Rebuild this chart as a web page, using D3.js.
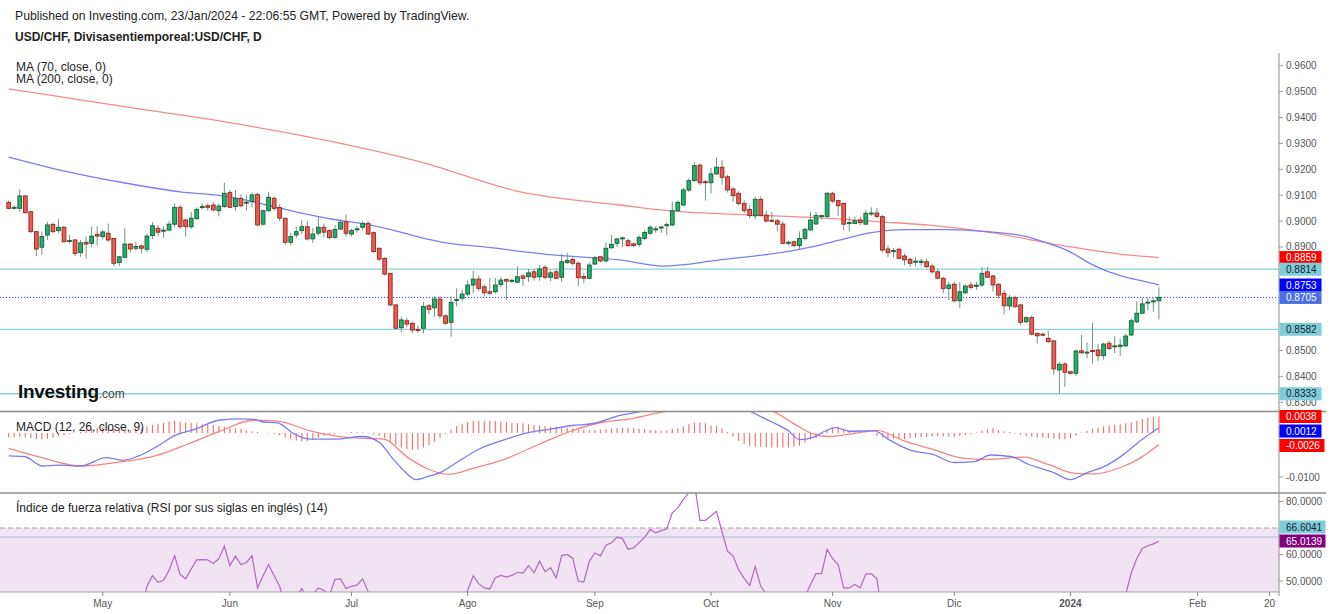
<!DOCTYPE html>
<html><head><meta charset="utf-8">
<script src="https://cdn.jsdelivr.net/npm/d3@7"></script>
<style>
body{margin:0;background:#fff;}
svg{display:block;font-family:"Liberation Sans",Arial,sans-serif;}
</style>
</head><body>
<svg id="c" width="1332" height="614"></svg>
<script>
// ---------------- DATA ----------------
const firstTradingDay = "2023-04-06";
const openP = [.9072,.9050,.9049,.9097,.9036,.8959,.8899,.8946,.8987,.8963,
.8976,.8922,.8927,.8878,.8918,.8914,.8949,.8940,.8953,.8933,
.8840,.8860,.8911,.8895,.8904,.8891,.8944,.8972,.8961,.8965,
.8988,.9053,.9004,.8978,.9009,.9053,.9059,.9062,.9040,.9056,
.9110,.9056,.9088,.9070,.9075,.9103,.8988,.9040,.9088,.9052,
.9011,.8918,.8946,.8963,.8978,.8931,.8953,.8976,.8963,.8937,
.8969,.8997,.8950,.8967,.8976,.8991,.8955,.8895,.8856,.8798,
.8676,.8588,.8615,.8605,.8581,.8586,.8673,.8665,.8699,.8634,
.8609,.8693,.8702,.8718,.8753,.8776,.8746,.8727,.8727,.8755,
.8774,.8769,.8764,.8788,.8785,.8804,.8785,.8821,.8783,.8804,
.8783,.8840,.8852,.8837,.8786,.8779,.8834,.8862,.8846,.8897,
.8914,.8932,.8924,.8912,.8910,.8933,.8953,.8968,.8975,.8984,
.8985,.9040,.9062,.9120,.9156,.9216,.9152,.9148,.9182,.9208,
.9171,.9124,.9107,.9068,.9045,.9020,.9084,.9023,.9003,.9001,
.8988,.8916,.8920,.8905,.8933,.8966,.8989,.9019,.9017,.9107,
.9079,.9068,.8990,.8991,.9004,.8988,.9029,.9031,.9017,.8892,
.8885,.8891,.8865,.8852,.8843,.8840,.8843,.8826,.8804,.8779,
.8740,.8756,.8692,.8723,.8753,.8748,.8753,.8804,.8788,.8756,
.8721,.8672,.8704,.8676,.8611,.8627,.8566,.8563,.8547,.8537,
.8425,.8448,.8418,.8412,.8499,.8492,.8500,.8502,.8480,.8528,
.8516,.8516,.8518,.8560,.8611,.8644,.8685,.8690,.8692];
const highP = [.9080,.9060,.9123,.9100,.9040,.8962,.8959,.8997,.8995,.9007,
.8980,.8946,.8930,.8927,.8940,.8978,.8980,.8965,.8990,.8935,
.8865,.8972,.8915,.8920,.8910,.8950,.8995,.8985,.8980,.9000,
.9068,.9062,.9010,.9035,.9053,.9068,.9068,.9073,.9068,.9148,
.9120,.9120,.9103,.9100,.9110,.9108,.9045,.9113,.9095,.9065,
.9011,.8955,.8980,.9003,.8999,.8972,.9017,.8990,.8970,.8985,
.9005,.9025,.8970,.8980,.9000,.9000,.8960,.8897,.8860,.8800,
.8680,.8630,.8625,.8612,.8595,.8688,.8680,.8710,.8710,.8640,
.8708,.8740,.8735,.8770,.8808,.8790,.8755,.8780,.8780,.8785,
.8780,.8778,.8825,.8795,.8815,.8815,.8830,.8830,.8810,.8815,
.8873,.8875,.8860,.8845,.8800,.8840,.8865,.8866,.8918,.8946,
.8935,.8940,.8932,.8915,.8945,.8965,.8985,.8980,.8980,.8995,
.9075,.9080,.9128,.9165,.9227,.9222,.9160,.9205,.9246,.9235,
.9178,.9130,.9115,.9080,.9062,.9095,.9095,.9040,.9035,.9010,
.8999,.8925,.8925,.8960,.8973,.9035,.9035,.9025,.9113,.9113,
.9082,.9072,.9017,.9017,.9017,.9043,.9053,.9050,.9023,.8905,
.8895,.8897,.8875,.8860,.8860,.8855,.8855,.8835,.8815,.8785,
.8765,.8765,.8765,.8755,.8765,.8765,.8823,.8822,.8792,.8760,
.8734,.8715,.8712,.8680,.8631,.8635,.8570,.8570,.8576,.8541,
.8455,.8455,.8422,.8505,.8560,.8530,.8607,.8525,.8530,.8538,
.8555,.8545,.8565,.8624,.8690,.8704,.8704,.8704,.8744];
const lowP = [.9045,.9045,.9036,.9030,.8955,.8865,.8869,.8927,.8955,.8953,
.8918,.8914,.8865,.8862,.8856,.8899,.8905,.8930,.8920,.8826,
.8826,.8856,.8880,.8885,.8875,.8880,.8930,.8945,.8935,.8962,
.8975,.8970,.8940,.8970,.9007,.9045,.9040,.9036,.9018,.9050,
.9050,.9040,.9053,.9040,.9053,.8980,.8982,.9035,.9040,.9000,
.8908,.8905,.8935,.8950,.8925,.8915,.8945,.8937,.8930,.8932,
.8965,.8940,.8940,.8955,.8965,.8945,.8878,.8845,.8790,.8670,
.8582,.8570,.8590,.8567,.8568,.8566,.8640,.8630,.8625,.8600,
.8553,.8670,.8690,.8710,.8721,.8730,.8710,.8715,.8720,.8745,
.8695,.8760,.8760,.8750,.8765,.8770,.8770,.8775,.8768,.8775,
.8765,.8835,.8830,.8749,.8760,.8776,.8830,.8840,.8840,.8893,
.8900,.8900,.8900,.8900,.8900,.8925,.8945,.8955,.8955,.8945,
.8980,.9035,.9058,.9113,.9152,.9140,.9079,.9107,.9178,.9140,
.9110,.9075,.9060,.9030,.9010,.9006,.9018,.8995,.8995,.8960,
.8910,.8905,.8900,.8892,.8925,.8962,.8985,.9005,.9015,.9070,
.9020,.8966,.8960,.8988,.8985,.8985,.9020,.9010,.8878,.8860,
.8860,.8852,.8830,.8822,.8825,.8828,.8818,.8795,.8775,.8721,
.8695,.8685,.8664,.8718,.8735,.8735,.8745,.8780,.8728,.8702,
.8640,.8655,.8666,.8597,.8605,.8558,.8527,.8555,.8530,.8406,
.8335,.8360,.8408,.8402,.8488,.8470,.8450,.8460,.8465,.8502,
.8490,.8480,.8512,.8555,.8605,.8640,.8654,.8650,.8620];
const closeP = [.9049,.9053,.9097,.9032,.8959,.8892,.8940,.8985,.8959,.8976,
.8920,.8925,.8875,.8916,.8911,.8942,.8942,.8958,.8927,.8837,
.8862,.8911,.8892,.8902,.8895,.8942,.8982,.8957,.8965,.8988,
.9053,.8978,.8978,.9011,.9045,.9056,.9053,.9043,.9058,.9107,
.9053,.9088,.9059,.9073,.9101,.8985,.9040,.9092,.9049,.9011,
.8918,.8940,.8959,.8978,.8931,.8950,.8976,.8957,.8936,.8968,
.8995,.8953,.8963,.8970,.8991,.8950,.8882,.8853,.8795,.8676,
.8586,.8618,.8602,.8579,.8579,.8670,.8659,.8699,.8634,.8605,
.8686,.8697,.8718,.8753,.8776,.8740,.8723,.8721,.8753,.8772,
.8768,.8771,.8785,.8779,.8800,.8783,.8815,.8783,.8800,.8779,
.8843,.8848,.8837,.8781,.8779,.8830,.8858,.8846,.8895,.8910,
.8931,.8935,.8905,.8905,.8937,.8956,.8976,.8970,.8977,.8986,
.9040,.9072,.9120,.9156,.9214,.9148,.9150,.9182,.9208,.9169,
.9120,.9098,.9068,.9040,.9021,.9084,.9021,.9000,.9001,.8988,
.8914,.8918,.8905,.8933,.8968,.9004,.9021,.9021,.9107,.9077,
.9059,.8988,.8994,.9001,.8994,.9030,.9031,.9018,.8888,.8878,
.8886,.8856,.8850,.8837,.8845,.8845,.8824,.8804,.8779,.8740,
.8753,.8692,.8727,.8749,.8744,.8752,.8798,.8783,.8753,.8714,
.8673,.8704,.8669,.8609,.8627,.8563,.8557,.8561,.8534,.8429,
.8447,.8416,.8412,.8498,.8491,.8494,.8497,.8480,.8525,.8508,
.8518,.8521,.8556,.8615,.8644,.8680,.8687,.8692,.8705];

// moving averages (candle index, value)
const ma70Idx = [0,9.3,21.3,31,38.8,46.7,52.7,58.6,64.7,69.5,74.4,78,86.4,98.4,110.5,118.3,128.6,140.7,146.7,150,156,162,170,177,184.1,187.7,191.3,196.1,201.6,205.2,208];
const ma70Val = [.9247,.9197,.9146,.9113,.9097,.9062,.9032,.9007,.8987,.8965,.8937,.8920,.8899,.8869,.8850,.8826,.8850,.8882,.8907,.8925,.8955,.8967,.8967,.8959,.8940,.8916,.8888,.8830,.8785,.8768,.8753];
const ma200Idx = [0,6,20,40,60,74.4,92.5,110.5,119.6,134.6,146.7,157.6,166,178,190.1,202.2,208];
const ma200Val = [.9510,.9491,.9445,.9380,.9300,.9229,.9113,.9062,.9039,.9023,.9012,.8997,.8985,.8954,.8907,.8869,.8859];

// MACD (12,26,9)
const macdIdx = [0,3,6,9,13,17.6,20.6,23.5,26.5,30,34,38,42,44.5,46,48.6,51.6,54.5,59,64,67,69.3,71.5,73.7,76,78,81,85,89,94.4,98,102,105.4,110.6,114,118,122,126,130,134,138,141,143,145.4,147.6,149.5,152,156.6,159,163.3,167,171,174.6,177.6,181.4,184.4,189,192,195,198,201.7,204.6,208];
const macdVal = [-0.0052,-0.0054,-0.0075,-0.0073,-0.0075,-0.0056,-0.0062,-0.0052,-0.0033,-0.0006,0.0010,0.0029,0.0032,0.0031,0.0025,0.0023,-0.0002,-0.0014,-0.0014,-0.0008,-0.0021,-0.0056,-0.0086,-0.0106,-0.0098,-0.0090,-0.0067,-0.0037,-0.0018,0.0002,0.0009,0.0017,0.0021,0.0040,0.0048,0.0058,0.0070,0.0080,0.0080,0.0050,0.0025,0.0005,-0.0015,-0.0010,0.0004,0.0012,0.0004,0.0005,-0.0014,-0.0040,-0.0048,-0.0067,-0.0065,-0.0050,-0.0054,-0.0071,-0.0090,-0.0106,-0.0090,-0.0077,-0.0048,-0.0018,0.0012];
const signalIdx = [0,6,13,20.6,26.5,32.4,38.3,44.2,48.6,54.5,61.2,67.8,72.2,76,79.6,84,90,96,101.8,107.6,112.4,116,120,126,132,138,142.4,145.4,148.3,152.9,157,161.9,167.1,172.4,176.9,183.6,188.1,192.6,196.4,200.9,204.6,208];
const signalVal = [-0.0035,-0.0056,-0.0075,-0.0065,-0.0052,-0.0025,0.0005,0.0029,0.0027,0.0005,-0.0010,-0.0014,-0.0056,-0.0083,-0.0094,-0.0080,-0.0058,-0.0025,0.0005,0.0025,0.0032,0.0042,0.0052,0.0062,0.0063,0.0050,0.0018,-0.0002,-0.0008,-0.0001,0.0006,-0.0018,-0.0037,-0.0057,-0.0060,-0.0055,-0.0072,-0.0091,-0.0093,-0.0079,-0.0057,-0.0026];
// histogram, one bar per candle, in units of 0.0001
const histVal = [-10,-9,-8,-10,-12,-14,-15,-13,-10,-7,
-5,-2,0,2,6,9,12,13,12,9,
6,5,6,8,11,15,18,21,23,26,
28,26,24,23,22,20,18,18,16,15,
13,11,9,6,4,2,0,-1,-2,-5,
-10,-14,-17,-19,-18,-15,-10,-6,-4,-3,
-1,1,2,2,1,-1,-3,-6,-12,-20,
-27,-33,-37,-38,-37,-33,-27,-20,-10,-2,
8,16,21,25,27,28,28,28,27,26,
25,24,23,22,20,18,17,16,15,14,
13,12,11,9,8,7,7,8,9,10,
11,12,12,11,9,9,7,6,5,6,
9,11,14,20,24,24,22,17,16,10,
3,-8,-18,-25,-29,-31,-31,-32,-33,-33,
-33,-33,-31,-29,-22,-15,-12,-2,6,12,
15,10,4,1,1,1,0,-6,-10,-12,
-13,-13,-14,-12,-10,-9,-9,-8,-8,-8,
-9,-9,-7,-5,-3,1,5,9,11,7,
4,2,-1,-4,-7,-8,-10,-10,-12,-13,
-14,-14,-12,-6,1,5,10,12,15,17,
19,20,22,24,28,32,34,36,38];

// RSI (14), one value per candle
const rsiVal = [43,43,45,41,35,31,34,37,36,37,
33,33,30,34,34,38,38,39,37,31,
34,39,38,39,38,48,52,49.5,50.3,54,
59.6,52.5,50.8,54.5,58,58.1,58,56.6,58.4,63.1,
55.8,59.4,56.2,57,59.6,47.4,52,56.2,52,48,
40,42,44,47.2,43,45,47.4,46.5,44.5,50.6,
50.8,47.2,48,48.5,50.8,46,40,37,33,27,
23,27,26,24,24,34,33,37,33,31,
40,41,43,46.5,52,49,47.4,47,51.2,52.1,
51.5,52.1,53.3,53,55.8,53.1,57.5,53.5,55,51.2,
59.6,60,58.5,50,49.6,57.5,60.6,59.5,63.5,64.4,
66.5,66,62,62.5,64.5,66.5,69.4,68.2,69,69.7,
75.7,77.6,80.8,83.3,87,72.9,72.9,74.5,76.3,68.5,
61.2,59.4,54.3,51,48.3,55.4,48,45,45,43,
37,37.5,36.5,40,44,48.7,52.8,52.8,61.9,58.4,
56.2,47.4,47.4,48.7,47.4,52.7,52.7,50.8,37,36,
36.5,34,33,32,33,33.5,31,29,27,25,
28,25,31,35,34,35,43,40,36,32,
29,33,30,26,28,24,23,23,22,17,
22,20,19,36,35,35,35,33,39,37,
38,39,45,53,58.5,62.3,63.3,64,65.0139];

const priceTicks = [0.96,0.95,0.94,0.93,0.92,0.91,0.90,0.89,0.88,0.87,0.86,0.85,0.84,0.83];
const supportLevels = [0.8814,0.8582,0.8333];
const lastClose = 0.8705;
const lastMa70 = 0.8753;
const lastMa200 = 0.8859;
const macdTicks = [0,-0.01];
const macdLast = {hist:0.0038, macd:0.0012, signal:-0.0026};
const rsiTicks = [80,70,60,50];
const rsiUpper = 70;
const rsiLevel = 66.6041;
const monthTickDates = ["2023-05-01","2023-06-01","2023-07-03","2023-08-01","2023-09-01","2023-10-02","2023-11-01","2023-12-01","2024-01-01","2024-02-01","2024-02-20"];
const monthTickLabels = ["May","Jun","Jul","Ago","Sep","Oct","Nov","Dic","2024","Feb","20"];

// ---------------- LAYOUT ----------------
const svg = d3.select("#c");
const plotR = 1279;
const mainTop = 52, mainBot = 411.5, macdBot = 493, rsiBot = 592;

// trading calendar (weekdays)
const days = [];
{ let d = new Date(firstTradingDay + "T00:00:00Z");
  while (days.length < 260) { const w = d.getUTCDay(); if (w !== 0 && w !== 6) days.push(d.toISOString().slice(0,10)); d = new Date(d.getTime() + 86400000); } }

const xs = d3.scaleLinear().domain([0, 208]).range([8.7, 1158.9]);
const yP = d3.scaleLinear().domain([0.83, 0.96]).range([402.3, 65.7]);
const yM = d3.scaleLinear().domain([-0.01, 0]).range([477, 433]);
const yR = d3.scaleLinear().domain([50, 80]).range([581, 501.5]);

const defs = svg.append("defs");
defs.append("clipPath").attr("id","cpMain").append("rect").attr("x",0).attr("y",mainTop).attr("width",plotR).attr("height",mainBot-mainTop);
defs.append("clipPath").attr("id","cpMacd").append("rect").attr("x",0).attr("y",mainBot+0.5).attr("width",plotR).attr("height",macdBot-mainBot-1);
defs.append("clipPath").attr("id","cpRsi").append("rect").attr("x",0).attr("y",macdBot+0.5).attr("width",plotR).attr("height",rsiBot-macdBot-0.5);

// header
svg.append("text").attr("x",15).attr("y",20).attr("font-size",12.2).attr("fill","#222").text("Published on Investing.com, 23/Jan/2024 - 22:06:55 GMT, Powered by TradingView.");
svg.append("text").attr("x",15).attr("y",41).attr("font-size",12).attr("font-weight","bold").attr("fill","#222").text("USD/CHF, Divisasentiemporeal:USD/CHF, D");

// ---- main panel ----
const gMain = svg.append("g").attr("clip-path","url(#cpMain)");
gMain.selectAll("line.lvl").data(supportLevels).join("line")
  .attr("x1",0).attr("x2",plotR).attr("y1",d=>yP(d)).attr("y2",d=>yP(d))
  .attr("stroke","#8ed0dc").attr("stroke-width",1.3);
gMain.append("line").attr("x1",0).attr("x2",plotR).attr("y1",yP(lastClose)).attr("y2",yP(lastClose))
  .attr("stroke","#2f45ea").attr("stroke-width",1).attr("stroke-dasharray","1.2,1.8");

const lineIdx = (idx, vals, y) => d3.line().x((d,i)=>xs(idx[i])).y((d,i)=>y(vals[i])).curve(d3.curveMonotoneX)(vals);
gMain.append("path").attr("d",lineIdx(ma200Idx,ma200Val,yP)).attr("fill","none").attr("stroke","#f58c8c").attr("stroke-width",1.3);
gMain.append("path").attr("d",lineIdx(ma70Idx,ma70Val,yP)).attr("fill","none").attr("stroke","#7d7df3").attr("stroke-width",1.3);

const candles = d3.range(openP.length).map(i=>({i,o:openP[i],h:highP[i],l:lowP[i],c:closeP[i]}));
gMain.selectAll("line.wick").data(candles).join("line")
  .attr("x1",d=>xs(d.i)).attr("x2",d=>xs(d.i)).attr("y1",d=>yP(d.h)).attr("y2",d=>yP(d.l))
  .attr("stroke","#6f9580").attr("stroke-width",1);
gMain.selectAll("rect.body").data(candles).join("rect")
  .attr("x",d=>xs(d.i)-1.9).attr("width",3.8)
  .attr("y",d=>yP(Math.max(d.o,d.c)))
  .attr("height",d=>Math.max(1,Math.abs(yP(d.o)-yP(d.c))))
  .attr("fill",d=>d.c>=d.o?"#1cb46c":"#f0594e")
  .attr("stroke",d=>d.c>=d.o?"#1d5c38":"#8e2a22").attr("stroke-width",0.9);

// logo
const logo = svg.append("text").attr("x",18).attr("y",398);
logo.append("tspan").attr("font-size",19).attr("font-weight","bold").attr("fill","#111").attr("letter-spacing","-0.3").text("Investing");
logo.append("tspan").attr("font-size",12).attr("fill","#444").text(".com");

svg.append("text").attr("x",16).attr("y",71).attr("font-size",12).attr("fill","#222").text("MA (70, close, 0)");
svg.append("text").attr("x",16).attr("y",83).attr("font-size",12).attr("fill","#222").text("MA (200, close, 0)");

// ---- MACD panel ----
const gMacd = svg.append("g").attr("clip-path","url(#cpMacd)");
gMacd.selectAll("line.h").data(histVal).join("line")
  .attr("x1",(d,i)=>xs(i)).attr("x2",(d,i)=>xs(i))
  .attr("y1",yM(0)).attr("y2",d=>yM(d/10000))
  .attr("stroke","#f36b6b").attr("stroke-width",1.1);
gMacd.append("path").attr("d",lineIdx(signalIdx,signalVal,yM)).attr("fill","none").attr("stroke","#f58585").attr("stroke-width",1.3);
gMacd.append("path").attr("d",lineIdx(macdIdx,macdVal,yM)).attr("fill","none").attr("stroke","#7b7bf2").attr("stroke-width",1.3);
svg.append("text").attr("x",16).attr("y",431).attr("font-size",12).attr("fill","#222").text("MACD (12, 26, close, 9)");

// ---- RSI panel ----
const gRsi = svg.append("g").attr("clip-path","url(#cpRsi)");
gRsi.append("rect").attr("x",0).attr("width",plotR).attr("y",yR(rsiUpper)).attr("height",rsiBot-yR(rsiUpper)).attr("fill","#f1e4f2");
gRsi.append("line").attr("x1",0).attr("x2",plotR).attr("y1",yR(rsiUpper)).attr("y2",yR(rsiUpper))
  .attr("stroke","#a4a4a4").attr("stroke-width",1.2).attr("stroke-dasharray","5,3");
gRsi.append("line").attr("x1",0).attr("x2",plotR).attr("y1",yR(rsiLevel)).attr("y2",yR(rsiLevel))
  .attr("stroke","#a9c4de").attr("stroke-width",1.2);
gRsi.append("path").attr("d",d3.line().x((d,i)=>xs(i)).y(d=>yR(d))(rsiVal)).attr("fill","none").attr("stroke","#b366c4").attr("stroke-width",1.2);
svg.append("text").attr("x",16).attr("y",512).attr("font-size",12).attr("fill","#222").text("Índice de fuerza relativa (RSI por sus siglas en inglés) (14)");

// ---- separators & axes ----
[mainBot, macdBot].forEach(y=>svg.append("line").attr("x1",0).attr("x2",1326).attr("y1",y).attr("y2",y).attr("stroke","#8c8c8c").attr("stroke-width",1.3));
svg.append("line").attr("x1",plotR).attr("x2",plotR).attr("y1",53).attr("y2",rsiBot+4).attr("stroke","#a0a0a0").attr("stroke-width",1.2);
svg.append("line").attr("x1",0).attr("x2",plotR).attr("y1",rsiBot).attr("y2",rsiBot).attr("stroke","#a0a0a0").attr("stroke-width",1.2);

// value boxes (drawn last); tick labels fully covered by a box are not drawn
const boxes = [
  {y:yP(lastMa200), t:lastMa200.toFixed(4), bg:"#ff0000", fg:"#fff"},
  {y:yP(supportLevels[0]), t:supportLevels[0].toFixed(4), bg:"#80cdd9", fg:"#123"},
  {y:yP(lastMa70), t:lastMa70.toFixed(4), bg:"#0000ff", fg:"#fff"},
  {y:yP(lastClose), t:lastClose.toFixed(4), bg:"#4a6fe3", fg:"#fff"},
  {y:yP(supportLevels[1]), t:supportLevels[1].toFixed(4), bg:"#80cdd9", fg:"#123"},
  {y:yP(supportLevels[2]), t:supportLevels[2].toFixed(4), bg:"#80cdd9", fg:"#123"},
  {y:416.5, t:macdLast.hist.toFixed(4), bg:"#ff0000", fg:"#fff"},
  {y:431, t:macdLast.macd.toFixed(4), bg:"#0000ff", fg:"#fff"},
  {y:445.5, t:macdLast.signal.toFixed(4), bg:"#ff0000", fg:"#fff", w:45},
  {y:527, t:rsiLevel.toFixed(4), bg:"#80cdd9", fg:"#123", w:46},
  {y:541, t:rsiVal[rsiVal.length-1].toFixed(4), bg:"#800080", fg:"#fff", w:46}
];
const covered = y => boxes.some(b => Math.abs(b.y - y) < 8);
const axisTick = (y,label)=>{
  svg.append("line").attr("x1",plotR).attr("x2",plotR+4).attr("y1",y).attr("y2",y).attr("stroke","#999");
  if (!covered(y)) svg.append("text").attr("x",plotR+7).attr("y",y+3.5).attr("font-size",10).attr("fill","#555").text(label);
};
priceTicks.forEach(v=>axisTick(yP(v), v.toFixed(4)));
macdTicks.forEach(v=>axisTick(yM(v), v.toFixed(4)));
rsiTicks.forEach(v=>axisTick(yR(v), v.toFixed(4)));

boxes.forEach(b=>{
  svg.append("rect").attr("x",plotR+0.5).attr("y",b.y-6.5).attr("width",b.w||42).attr("height",13).attr("fill",b.bg);
  svg.append("text").attr("x",plotR+7).attr("y",b.y+3.6).attr("font-size",10).attr("fill",b.fg).text(b.t);
});

// x axis
monthTickDates.forEach((dt,k)=>{
  const i = days.indexOf(dt);
  const x = xs(i);
  svg.append("line").attr("x1",x).attr("x2",x).attr("y1",rsiBot).attr("y2",rsiBot+4).attr("stroke","#888");
  svg.append("text").attr("x",x).attr("y",607).attr("text-anchor","middle").attr("font-size",10)
    .attr("font-weight",monthTickLabels[k]==="2024"?"bold":"normal").attr("fill","#555").text(monthTickLabels[k]);
});
</script>
</body></html>
